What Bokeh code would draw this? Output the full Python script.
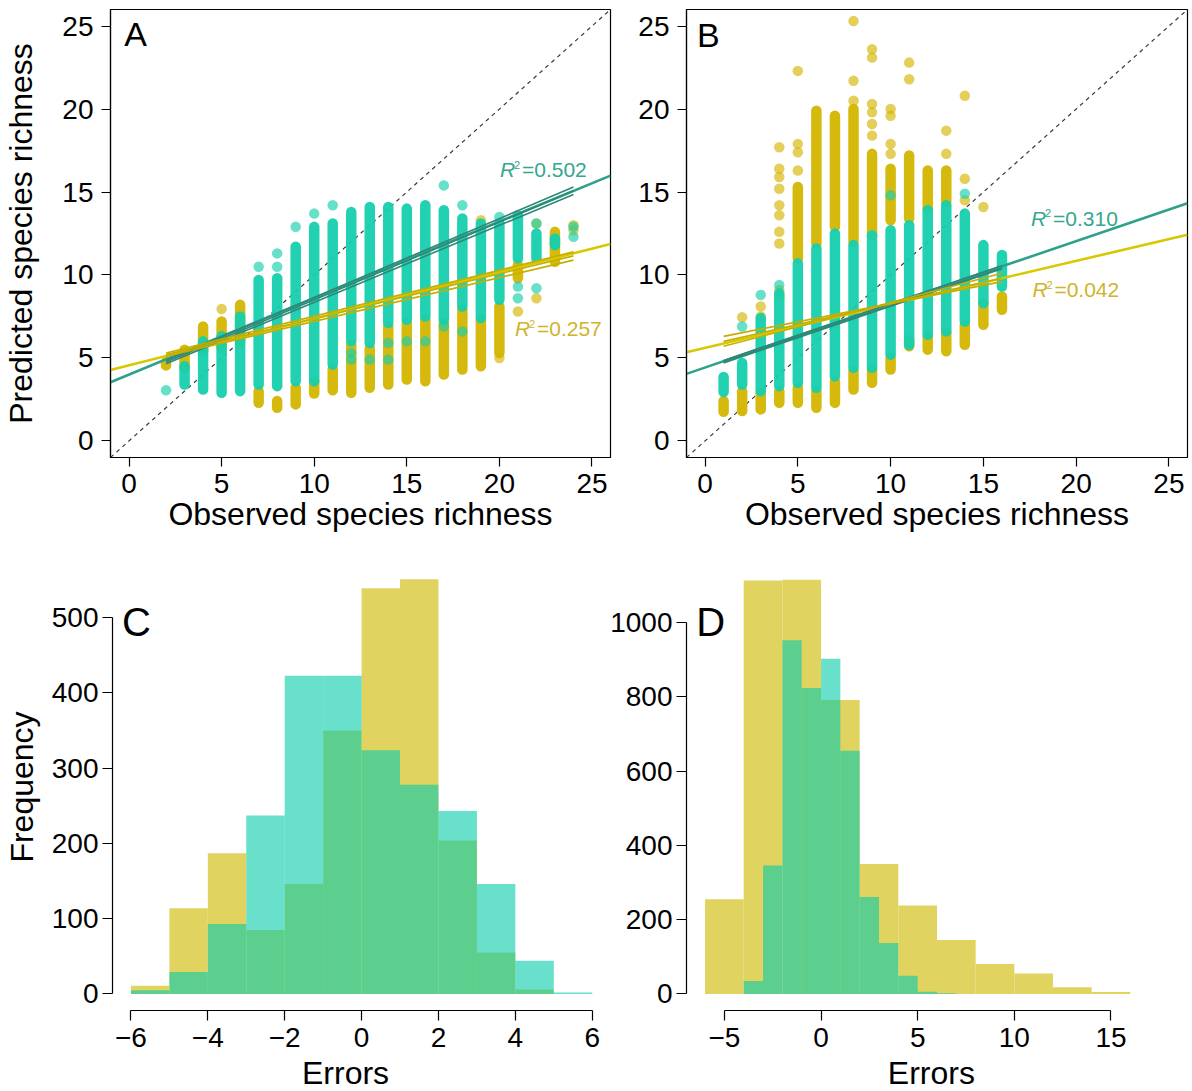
import numpy as np
from bokeh.plotting import figure
from bokeh.layouts import column, row
from bokeh.models import Range1d, Slope, Label, FixedTicker
from bokeh.core.properties import value
from bokeh.embed import file_html
from bokeh.resources import INLINE

FONT = "Liberation Sans"

# ---------------- Panel A: observed vs predicted ----------------
A_teal_strip_x  = [3, 4, 5, 6, 7, 8, 9, 10, 11, 12, 13, 14, 15, 16, 17, 18, 19, 20, 21, 22, 23]
A_teal_strip_lo = [3.4, 3.1, 2.9, 3.0, 3.4, 3.3, 3.6, 3.6, 4.6, 6.0, 5.9, 7.1, 7.3, 7.5, 7.3, 8.1, 7.4, 8.5, 11.0, 11.0, 11.8]
A_teal_strip_hi = [4.5, 6.0, 6.3, 7.5, 9.7, 9.8, 11.7, 12.9, 13.1, 13.8, 14.1, 14.1, 14.0, 14.2, 13.9, 13.4, 13.1, 13.1, 13.6, 12.5, 12.2]
A_teal_pts_x = [2, 7, 8, 8, 9, 10, 11, 12, 12, 13, 14, 14, 15, 16, 17, 17, 18, 18, 20, 21, 21, 22, 22, 24, 24]
A_teal_pts_y = [3.05, 10.5, 10.5, 11.3, 12.9, 13.7, 14.2, 5.3, 4.9, 4.9, 5.9, 4.9, 6.0, 6.0, 15.4, 6.9, 14.2, 6.6, 13.5, 8.6, 9.3, 13.1, 9.2, 12.3, 12.9]

A_yel_strip_x  = [2, 3, 4, 5, 6, 7, 8, 9, 10, 11, 12, 13, 14, 15, 16, 17, 18, 19, 20, 21, 23]
A_yel_strip_lo = [4.55, 4.4, 5.4, 5.6, 6.0, 2.3, 2.0, 2.2, 2.85, 3.05, 2.9, 3.2, 3.4, 3.7, 3.6, 4.0, 4.3, 4.5, 5.3, 9.8, 10.8]
A_yel_strip_hi = [4.75, 5.5, 6.9, 7.2, 8.2, 3.0, 2.4, 3.2, 3.6, 4.3, 5.8, 5.6, 6.9, 7.1, 7.3, 7.1, 7.9, 7.3, 8.1, 10.6, 12.6]
A_yel_pts_x = [5, 19, 20, 21, 22, 22, 24, 24]
A_yel_pts_y = [7.95, 13.3, 5.0, 7.8, 8.6, 13.1, 12.7, 13.0]

A_fit_teal = (4.00, 0.461)
A_fit_yel = (4.56, 0.281)
A_fold_teal_b0 = [3.90, 3.81, 3.72]
A_fold_teal_b1 = [0.475, 0.4695, 0.4636]
A_fold_yel_b0 = [4.745, 4.66, 4.57]
A_fold_yel_b1 = [0.277, 0.2705, 0.2636]
A_r2_teal = "0.502"
A_r2_yel = "0.257"

# ---------------- Panel B ----------------
B_teal_strip_x  = [1, 2, 3, 4, 5, 6, 7, 8, 9, 10, 11, 12, 13, 14, 15, 16]
B_teal_strip_lo = [2.95, 3.4, 3.0, 3.3, 3.5, 3.2, 3.9, 4.4, 4.4, 5.2, 5.8, 6.4, 6.6, 7.2, 8.3, 9.3]
B_teal_strip_hi = [3.85, 4.7, 7.4, 8.9, 10.7, 11.6, 12.5, 11.8, 12.4, 12.7, 13.0, 13.9, 14.2, 13.7, 11.8, 11.2]
B_teal_pts_x = [2, 3, 4, 10, 14]
B_teal_pts_y = [6.9, 8.8, 9.4, 14.8, 14.9]

B_yel_strip_x  = [1, 2, 3, 4, 5, 5, 6, 6, 7, 7, 8, 8, 9, 9, 10, 10, 11, 11, 12, 12, 13, 13, 14, 15, 16]
B_yel_strip_lo = [1.75, 1.8, 1.9, 2.3, 2.3, 11.0, 2.0, 11.9, 2.3, 12.9, 3.1, 12.0, 3.5, 12.4, 4.3, 13.3, 5.7, 13.4, 5.5, 14.0, 5.4, 14.4, 5.8, 7.0, 7.9]
B_yel_strip_hi = [2.4, 3.0, 2.9, 3.0, 3.2, 15.3, 3.0, 19.9, 3.6, 19.6, 4.2, 20.0, 4.3, 17.3, 5.0, 16.4, 6.1, 17.2, 6.3, 16.3, 6.5, 16.3, 7.0, 8.3, 8.7]
B_yel_pts_x = [2, 3, 3, 4, 4, 4, 4, 4, 4, 4, 4, 4, 4, 5, 5, 5, 5, 8, 8, 8,
               9, 9, 9, 9, 9, 9, 10, 10, 10, 10, 11, 11, 13, 13, 14, 14, 14, 15]
B_yel_pts_y = [7.45, 8.1, 7.5, 17.7, 16.4, 15.9, 15.2, 14.2, 13.6, 12.6, 11.9, 9.1, 8.7, 16.3, 17.4, 17.9, 22.3, 20.5, 21.7, 25.3,
               18.4, 19.1, 19.8, 20.3, 23.1, 23.6, 17.3, 17.9, 19.6, 20.0, 21.8, 22.8, 17.3, 18.7, 14.5, 15.8, 20.8, 14.1]

B_fit_teal = (4.42, 0.381)
B_fit_yel = (5.61, 0.262)
B_fold_teal_b0 = [4.47, 4.32, 4.41]
B_fold_teal_b1 = [0.38, 0.38, 0.3733]
B_fold_yel_b0 = [6.08, 5.747, 5.407]
B_fold_yel_b1 = [0.22, 0.2533, 0.2933]
B_r2_teal = "0.310"
B_r2_yel = "0.042"

# ---------------- Panel C: error histograms ----------------
C_edges = [-6, -5, -4, -3, -2, -1, 0, 1, 2, 3, 4, 5, 6]
C_yel = [11, 114, 187, 85, 146, 350, 539, 551, 204, 55, 6, 0]
C_teal = [5, 29, 93, 237, 423, 423, 324, 278, 243, 146, 44, 2]

# ---------------- Panel D ----------------
D_yel_edges = [-6, -4, -2, 0, 2, 4, 6, 8, 10, 12, 14, 16]
D_yel = [255, 1114, 1116, 792, 350, 238, 145, 81, 55, 18, 5]
D_teal_edges = [-4, -3, -2, -1, 0, 1, 2, 3, 4, 5, 6, 7]
D_teal = [35, 346, 953, 824, 903, 655, 261, 137, 49, 6, 2]

# ticks / labels
AB_ticks = [0, 5, 10, 15, 20, 25]
C_xticks = [-6, -4, -2, 0, 2, 4, 6]
C_xlabels = ["\u22126", "\u22124", "\u22122", "0", "2", "4", "6"]
C_yticks = [0, 100, 200, 300, 400, 500]
D_xticks = [-5, 0, 5, 10, 15]
D_xlabels = ["\u22125", "0", "5", "10", "15"]
D_yticks = [0, 200, 400, 600, 800, 1000]

# ---------------- styling ----------------
TEAL_PT = "#15CFAE"
YEL_PT = "#D4B500"
TEAL_FIT = "#2FA18B"
YEL_FIT = "#D8C800"
TEAL_FOLD = "#2E8877"
YEL_FOLD = "#C6AE00"
TEAL_TXT = "#35A68F"
YEL_TXT = "#D1B32A"
H_YEL = "#E0D35F"
H_TEAL = "#0BCDAB"
PT = 10.5

AB_LIM = (-1, 26)


def style_axes(p, tick_out, xstand, ystand):
    for ax in p.axis:
        ax.axis_line_color = "black"
        ax.axis_line_width = 1.2
        ax.major_tick_line_color = "black"
        ax.major_tick_line_width = 1.2
        ax.major_tick_in = 0
        ax.major_tick_out = tick_out
        ax.minor_tick_line_color = None
        ax.major_label_text_font = FONT
        ax.major_label_text_font_size = "28px"
        ax.major_label_text_color = "black"
        ax.axis_label_text_font = FONT
        ax.axis_label_text_font_size = "32px"
        ax.axis_label_text_font_style = "normal"
        ax.axis_label_text_color = "black"
    p.xaxis.major_label_standoff = xstand
    p.yaxis.major_label_standoff = ystand
    p.xgrid.visible = False
    p.ygrid.visible = False
    p.background_fill_color = "white"
    p.border_fill_color = "white"


def scatter_series(p, sx, lo, hi, px, py, color):
    p.segment(x0=sx, y0=lo, x1=sx, y1=hi, line_color=color, line_width=PT,
              line_cap="round", line_alpha=0.95)
    p.scatter(px, py, size=PT, fill_color=color, fill_alpha=0.65, line_color=None)


def fit_lines(p, b0, b1, xa, xb, color, width):
    b0 = np.asarray(b0, float)
    b1 = np.asarray(b1, float)
    n = len(b0)
    p.segment(x0=[xa] * n, y0=list(b0 + b1 * xa), x1=[xb] * n, y1=list(b0 + b1 * xb),
              line_color=color, line_width=width)


def r2_label(p, x, y, val, color):
    common = dict(x=x, y=y, text_font=FONT, text_color=color, text_baseline="middle",
                  text_align="left")
    p.add_layout(Label(text="R", text_font_style="italic", text_font_size="21px", **common))
    p.add_layout(Label(text="2", text_font_size="11px", x_offset=14, y_offset=5, **common))
    p.add_layout(Label(text="=" + val, text_font_size="21px", x_offset=22, **common))


def scatter_panel(width, border_left, border_right, letter, letter_xy,
                  teal, yel, fit_t, fit_y, fold_t, fold_y, r2t, r2y, r2t_xy, r2y_xy, ytitle):
    p = figure(width=width, height=548, x_range=Range1d(*AB_LIM), y_range=Range1d(*AB_LIM),
               output_backend="svg", toolbar_location=None,
               min_border_left=border_left, min_border_right=border_right,
               min_border_top=9, min_border_bottom=91)
    p.outline_line_color = "black"
    p.outline_line_width = 1.2
    p.xaxis.ticker = FixedTicker(ticks=AB_ticks)
    p.yaxis.ticker = FixedTicker(ticks=AB_ticks)
    style_axes(p, 9, 7, 8)
    p.xaxis.axis_label = "Observed species richness"
    p.xaxis.axis_label_standoff = 0
    if ytitle:
        p.yaxis.axis_label = ytitle
        p.yaxis.axis_label_standoff = 20

    p.add_layout(Slope(gradient=1, y_intercept=0, line_color="#3a3a3a", line_width=1.2,
                       line_dash="4 4", level="underlay"))
    scatter_series(p, *yel, color=YEL_PT)
    scatter_series(p, *teal, color=TEAL_PT)
    # full-range regression lines
    fit_lines(p, [fit_t[0]], [fit_t[1]], AB_LIM[0], AB_LIM[1], TEAL_FIT, 2.6)
    fit_lines(p, [fit_y[0]], [fit_y[1]], AB_LIM[0], AB_LIM[1], YEL_FIT, 2.6)
    # per-fold lines over the observed range
    allx = list(teal[0]) + list(teal[3]) + list(yel[0]) + list(yel[3])
    xa, xb = min(allx), max(allx)
    fit_lines(p, fold_t[0], fold_t[1], xa, xb, TEAL_FOLD, 1.6)
    fit_lines(p, fold_y[0], fold_y[1], xa, xb, YEL_FOLD, 1.6)

    r2_label(p, r2t_xy[0], r2t_xy[1], r2t, TEAL_TXT)
    r2_label(p, r2y_xy[0], r2y_xy[1], r2y, YEL_TXT)
    p.add_layout(Label(x=letter_xy[0], y=letter_xy[1], text=letter, text_font=FONT,
                       text_font_size="34px", text_baseline="middle", text_color="black"))
    return p


pA = scatter_panel(634, 108, 24, "A", (-0.26, 24.5),
                   (A_teal_strip_x, A_teal_strip_lo, A_teal_strip_hi, A_teal_pts_x, A_teal_pts_y),
                   (A_yel_strip_x, A_yel_strip_lo, A_yel_strip_hi, A_yel_pts_x, A_yel_pts_y),
                   A_fit_teal, A_fit_yel, (A_fold_teal_b0, A_fold_teal_b1), (A_fold_yel_b0, A_fold_yel_b1),
                   A_r2_teal, A_r2_yel, (20.03, 16.35), (20.84, 6.76), "Predicted species richness")

pB = scatter_panel(556, 52, 3, "B", (-0.44, 24.46),
                   (B_teal_strip_x, B_teal_strip_lo, B_teal_strip_hi, B_teal_pts_x, B_teal_pts_y),
                   (B_yel_strip_x, B_yel_strip_lo, B_yel_strip_hi, B_yel_pts_x, B_yel_pts_y),
                   B_fit_teal, B_fit_yel, (B_fold_teal_b0, B_fold_teal_b1), (B_fold_yel_b0, B_fold_yel_b1),
                   B_r2_teal, B_r2_yel, (17.57, 13.42), (17.64, 9.11), None)


def hist_panel(width, border_left, border_right, xlim, ylim, xticks, xlabels, yticks,
               yel_edges, yel, teal_edges, teal, letter, letter_xy, ytitle, ystand_title):
    p = figure(width=width, height=512, x_range=Range1d(*xlim), y_range=Range1d(*ylim),
               output_backend="svg", toolbar_location=None,
               min_border_left=border_left, min_border_right=border_right,
               min_border_top=15, min_border_bottom=50)
    p.outline_line_color = None
    p.xaxis.ticker = FixedTicker(ticks=xticks)
    p.xaxis.major_label_overrides = {t: s for t, s in zip(xticks, xlabels)}
    p.yaxis.ticker = FixedTicker(ticks=yticks)
    p.xaxis.bounds = (xticks[0], xticks[-1])
    p.yaxis.bounds = (yticks[0], yticks[-1])
    style_axes(p, 10, 7, 4)
    if ytitle:
        p.yaxis.axis_label = ytitle
        p.yaxis.axis_label_standoff = ystand_title
    p.quad(left=yel_edges[:-1], right=yel_edges[1:], top=yel, bottom=0,
           fill_color=H_YEL, fill_alpha=1.0, line_color=None)
    p.quad(left=teal_edges[:-1], right=teal_edges[1:], top=teal, bottom=0,
           fill_color=H_TEAL, fill_alpha=0.62, line_color=None)
    p.add_layout(Label(x=letter_xy[0], y=letter_xy[1], text=letter, text_font=FONT,
                       text_font_size="40px", text_baseline="middle", text_color="black"))
    return p


pC = hist_panel(600, 110, 0, (-6.48, 6.215), (-22, 572), C_xticks, C_xlabels, C_yticks,
                C_edges, C_yel, C_edges, C_teal, "C", (-6.23, 493.8), "Frequency", 9)
pD = hist_panel(590, 86, 3, (-6.96, 18.96), (-44.6, 1159.6), D_xticks, D_xlabels, D_yticks,
                D_yel_edges, D_yel, D_teal_edges, D_teal, "D", (-6.46, 1001), None, 0)

STRIP_H = 46


def title_strip(parent, width, border_left, border_right, xc):
    s = figure(width=width, height=STRIP_H, x_range=parent.x_range, y_range=Range1d(0, STRIP_H),
               output_backend="svg", toolbar_location=None,
               x_axis_location=None, y_axis_location=None,
               min_border_left=border_left, min_border_right=border_right,
               min_border_top=0, min_border_bottom=0)
    s.outline_line_color = None
    s.grid.visible = False
    s.background_fill_color = None
    s.border_fill_color = None
    s.text(x=[xc], y=[18], text=["Errors"], text_font=value(FONT), text_font_size="32px",
           text_align="center", text_baseline="middle", text_color="black")
    return s


sC = title_strip(pC, 600, 110, 0, -0.39)
sD = title_strip(pD, 590, 86, 3, 5.71)

layout = column(row(pA, pB), row(pC, pD), row(sC, sD, margin=(-16, 0, 0, 0)))
open("out.html", "w").write(file_html(layout, INLINE))
